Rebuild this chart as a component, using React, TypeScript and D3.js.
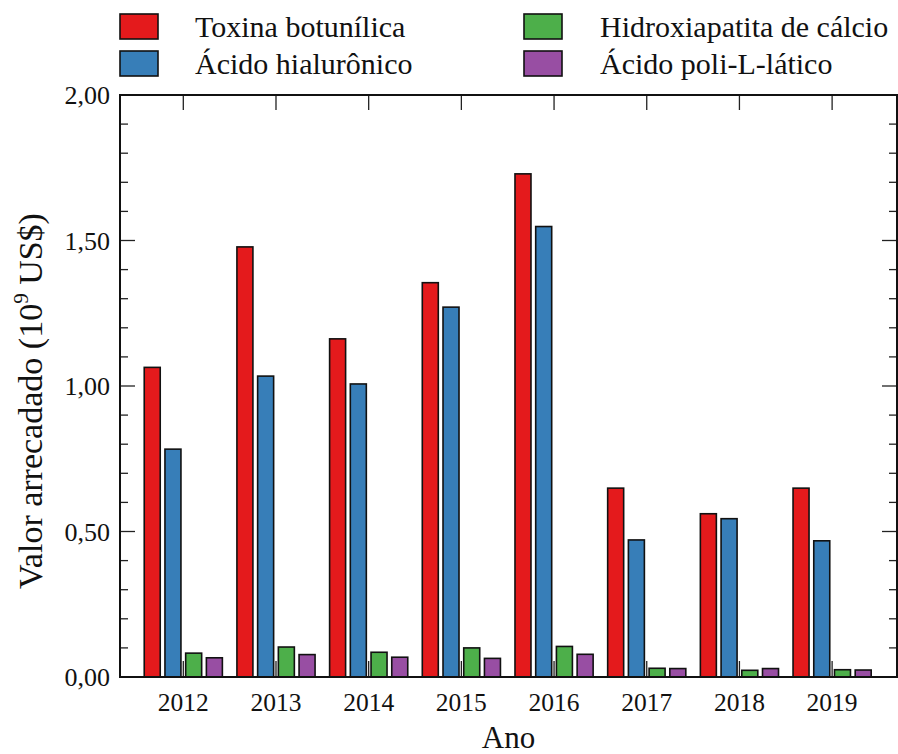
import React from "react";
import * as d3 from "d3";

const years = ["2012", "2013", "2014", "2015", "2016", "2017", "2018", "2019"];
const seriesNames = ["Toxina botunílica", "Ácido hialurônico", "Hidroxiapatita de cálcio", "Ácido poli-L-lático"];
const toxina = [1.064, 1.478, 1.162, 1.355, 1.729, 0.649, 0.561, 0.649];
const hialuronico = [0.783, 1.034, 1.007, 1.271, 1.548, 0.471, 0.544, 0.468];
const hidroxiapatita = [0.082, 0.103, 0.085, 0.1, 0.105, 0.03, 0.023, 0.025];
const polilatico = [0.066, 0.077, 0.068, 0.064, 0.078, 0.029, 0.029, 0.024];
const colors = ["#e41a1c", "#377eb8", "#4daf4a", "#984ea3"];
const yMajorTicks = [0, 0.5, 1.0, 1.5, 2.0];
const yMinorTicks = d3.range(0, 2.0001, 0.1);

const W = 898;
const H = 754;
const left = 120;
const right = 897;
const top = 95;
const bottom = 677;

export default function App() {
  const series = [toxina, hialuronico, hidroxiapatita, polilatico];
  const x = d3.scaleLinear().domain([-0.683, 7.7]).range([left, right]);
  const y = d3.scaleLinear().domain([0, 2]).range([bottom, top]);
  const barStep = 0.2235;
  const barW = x(0.1726) - x(0);
  const font = "Liberation Serif";
  const fmt = (v: number) => v.toFixed(2).replace(".", ",");

  const legendItems = [
    { name: seriesNames[0], color: colors[0], sx: 120, tx: 195, row: 0 },
    { name: seriesNames[1], color: colors[1], sx: 120, tx: 195, row: 1 },
    { name: seriesNames[2], color: colors[2], sx: 524, tx: 600, row: 0 },
    { name: seriesNames[3], color: colors[3], sx: 524, tx: 600, row: 1 },
  ];

  return (
    <svg width={W} height={H} style={{ position: "absolute", left: 0, top: 0, background: "#fff", fontFamily: font }}>
      <rect x={0} y={0} width={W} height={H} fill="#fff" />
      {years.map((yr, i) =>
        series.map((s, j) => {
          const cx = x(i + (j - 1.5) * barStep);
          return (
            <rect
              key={yr + "-" + j}
              x={cx - barW / 2}
              y={y(s[i])}
              width={barW}
              height={y(0) - y(s[i])}
              fill={colors[j]}
              stroke="#111"
              strokeWidth={1.6}
            />
          );
        })
      )}
      {years.map((yr, i) => (
        <g key={"xt" + yr}>
          <line x1={x(i)} x2={x(i)} y1={bottom} y2={bottom - 16} stroke="#222" strokeWidth={1.3} />
          <line x1={x(i)} x2={x(i)} y1={top} y2={top + 15} stroke="#222" strokeWidth={1.3} />
          <text x={x(i)} y={711} textAnchor="middle" fontSize={25.5} fill="#111" style={{ fontFamily: font }}>
            {yr}
          </text>
        </g>
      ))}
      {yMinorTicks.map((t, k) => {
        const major = yMajorTicks.some((m) => Math.abs(m - t) < 1e-6);
        const len = major ? 15 : 8;
        return (
          <g key={"yt" + k}>
            <line x1={left} x2={left + len} y1={y(t)} y2={y(t)} stroke="#222" strokeWidth={1.3} />
            <line x1={right} x2={right - len} y1={y(t)} y2={y(t)} stroke="#222" strokeWidth={1.3} />
          </g>
        );
      })}
      {yMajorTicks.map((t) => (
        <text key={"yl" + t} x={110} y={y(t)} dy="0.35em" textAnchor="end" fontSize={26} fill="#111" style={{ fontFamily: font }}>
          {fmt(t)}
        </text>
      ))}
      <rect x={left} y={top} width={right - left} height={bottom - top} fill="none" stroke="#111" strokeWidth={2} />
      <text x={(left + right) / 2} y={748} textAnchor="middle" fontSize={31} fill="#111" style={{ fontFamily: font }}>
        Ano
      </text>
      <text transform={`translate(42, 401) rotate(-90)`} textAnchor="middle" fontSize={34} fill="#111" style={{ fontFamily: font }}>
        Valor arrecadado (10
        <tspan fontSize={21} dy={-14}>9</tspan>
        <tspan dy={14}> US$)</tspan>
      </text>
      {legendItems.map((it) => (
        <g key={it.name}>
          <rect x={it.sx} y={14 + it.row * 37} width={38} height={25} fill={it.color} stroke="#111" strokeWidth={1.6} />
          <text x={it.tx} y={37 + it.row * 37} fontSize={30} fill="#111" style={{ fontFamily: font }}>
            {it.name}
          </text>
        </g>
      ))}
    </svg>
  );
}
